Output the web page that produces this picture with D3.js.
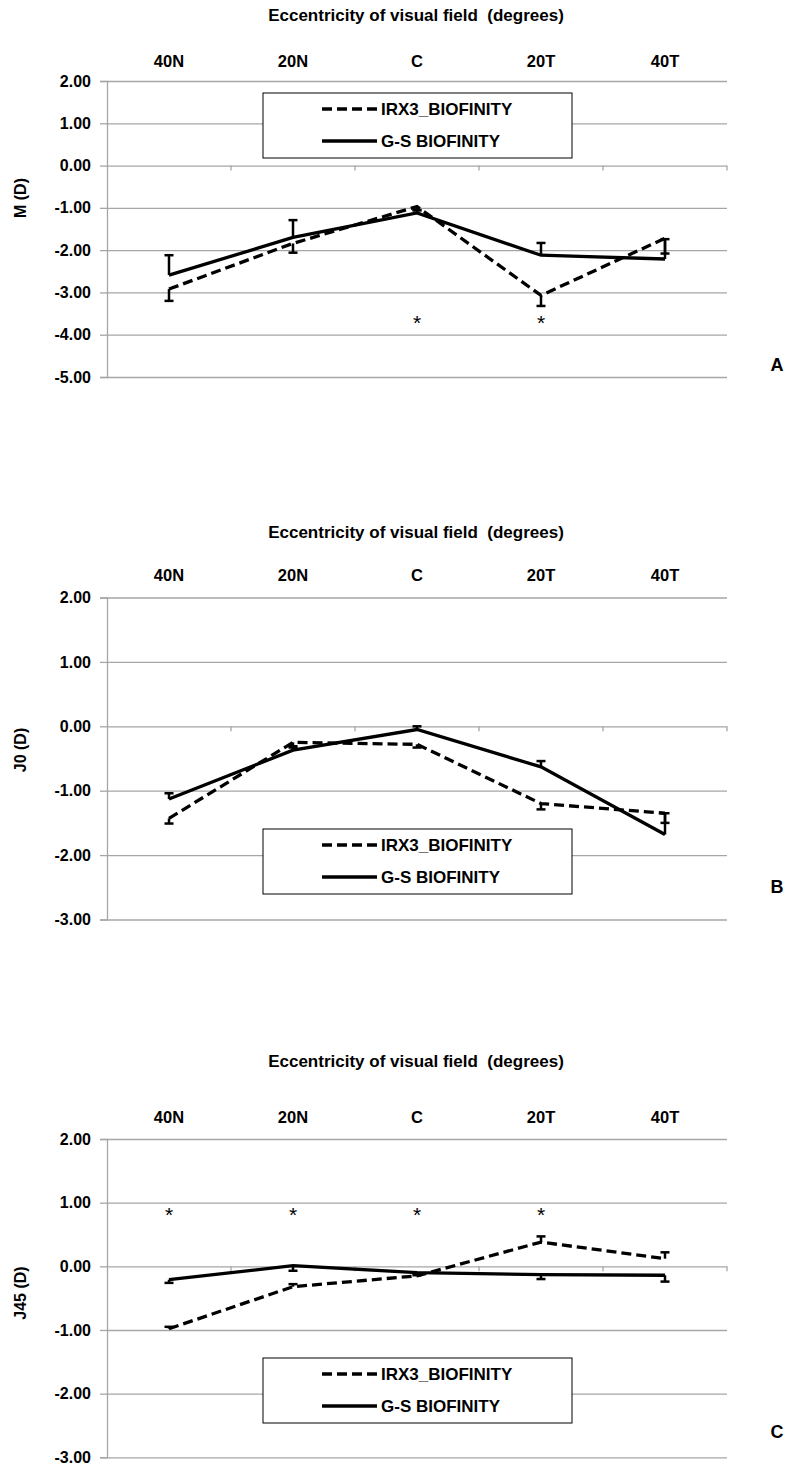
<!DOCTYPE html>
<html>
<head>
<meta charset="utf-8">
<script src="https://cdn.jsdelivr.net/npm/d3@7"></script>
<style>
  body { margin: 0; background: #fff; }
  svg text { font-family: "Liberation Sans", Arial, sans-serif; font-weight: bold; fill: #000; }
</style>
</head>
<body>
<div id="chart"></div>
<script>
const categories = ['40N', '20N', 'C', '20T', '40T'];
const seriesNames = ['IRX3_BIOFINITY', 'G-S BIOFINITY'];
const xTitle = 'Eccentricity of visual field  (degrees)';

// panel A: M
const mTicks = [2, 1, 0, -1, -2, -3, -4, -5];
const mIrx3 = [-2.92, -1.84, -0.97, -3.07, -1.72];
const mIrx3Err = [-0.28, -0.22, -0.08, -0.25, -0.36];
const mGs = [-2.59, -1.70, -1.12, -2.12, -2.21];
const mGsErr = [0.47, 0.41, 0.06, 0.29, 0.47];
const mStars = ['C', '20T'];
const mStarLevel = -3.63;

// panel B: J0
const j0Ticks = [2, 1, 0, -1, -2, -3];
const j0Irx3 = [-1.43, -0.25, -0.28, -1.20, -1.35];
const j0Irx3Err = [-0.08, -0.08, -0.05, -0.09, -0.15];
const j0Gs = [-1.13, -0.37, -0.05, -0.63, -1.68];
const j0GsErr = [0.09, 0.06, 0.05, 0.09, 0.33];
const j0Stars = [];
const j0StarLevel = 0;

// panel C: J45
const j45Ticks = [2, 1, 0, -1, -2, -3];
const j45Irx3 = [-0.98, -0.32, -0.15, 0.38, 0.12];
const j45Irx3Err = [0.03, 0.04, 0.03, 0.09, 0.10];
const j45Gs = [-0.21, 0.01, -0.10, -0.13, -0.14];
const j45GsErr = [-0.05, -0.08, -0.04, -0.07, -0.10];
const j45Stars = ['40N', '20N', 'C', '20T'];
const j45StarLevel = 0.87;

const panels = [
  { letter: 'A', yLabel: 'M (D)', ticks: mTicks, irx3: mIrx3, irx3Err: mIrx3Err, gs: mGs, gsErr: mGsErr, stars: mStars, starLevel: mStarLevel,
    top: 81, bottom: 377, titleY: 21, catY: 67, legendTop: 93, yLabelY: 198, letterY: 371 },
  { letter: 'B', yLabel: 'J0 (D)', ticks: j0Ticks, irx3: j0Irx3, irx3Err: j0Irx3Err, gs: j0Gs, gsErr: j0GsErr, stars: j0Stars, starLevel: j0StarLevel,
    top: 597.5, bottom: 919.5, titleY: 538, catY: 581, legendTop: 829, yLabelY: 750, letterY: 893 },
  { letter: 'C', yLabel: 'J45 (D)', ticks: j45Ticks, irx3: j45Irx3, irx3Err: j45Irx3Err, gs: j45Gs, gsErr: j45GsErr, stars: j45Stars, starLevel: j45StarLevel,
    top: 1139, bottom: 1457.3, titleY: 1067, catY: 1123, legendTop: 1358, yLabelY: 1293, letterY: 1438 }
];

const W = 788, H = 1466;
const left = 107, right = 727;
const grid = '#a6a6a6';

const svg = d3.select('#chart').append('svg')
  .attr('width', W)
  .attr('height', H);

const x = d3.scaleBand().domain(categories).range([left, right]);
const cx = c => x(c) + x.bandwidth() / 2;

panels.forEach(p => {
  const g = svg.append('g');
  const y = d3.scaleLinear().domain([d3.min(p.ticks), d3.max(p.ticks)]).range([p.bottom, p.top]);

  // gridlines
  g.append('g')
    .attr('transform', `translate(${left},0)`)
    .call(d3.axisRight(y).tickValues(p.ticks).tickSize(right - left).tickFormat(''))
    .call(s => s.select('.domain').remove())
    .selectAll('line').attr('stroke', grid).attr('stroke-width', 1.3);

  // value axis
  const ya = g.append('g')
    .attr('transform', `translate(${left},0)`)
    .call(d3.axisLeft(y).tickValues(p.ticks).tickSize(7).tickPadding(9).tickFormat(d => d.toFixed(2)));
  ya.select('.domain').attr('stroke', grid).attr('stroke-width', 1.3);
  ya.selectAll('.tick line').attr('stroke', grid).attr('stroke-width', 1.3);
  ya.selectAll('text').style('font-size', '16px');

  // category tick marks on the zero line
  const bounds = categories.slice(1).map(c => x(c)).concat([x.range()[1]]);
  g.selectAll('.ctick').data(bounds).enter().append('line')
    .attr('x1', d => d).attr('x2', d => d)
    .attr('y1', y(0)).attr('y2', y(0) + 5)
    .attr('stroke', grid).attr('stroke-width', 1.3);

  // category labels (high position)
  g.append('g')
    .attr('transform', `translate(0,${p.catY})`)
    .call(d3.axisTop(x).tickSize(0).tickPadding(0))
    .call(s => s.select('.domain').remove())
    .selectAll('text').attr('dy', 0).style('font-size', '16.5px');

  // title
  g.append('text')
    .attr('x', (left + right) / 2 - 1).attr('y', p.titleY)
    .attr('text-anchor', 'middle')
    .style('font-size', '17px')
    .style('white-space', 'pre')
    .text(xTitle);

  // y label
  g.append('text')
    .attr('transform', `translate(26,${p.yLabelY}) rotate(-90)`)
    .attr('text-anchor', 'middle')
    .style('font-size', '16px')
    .style('white-space', 'pre')
    .text(p.yLabel);

  // panel letter
  g.append('text')
    .attr('x', 777).attr('y', p.letterY)
    .attr('text-anchor', 'middle')
    .style('font-size', '18px')
    .text(p.letter);

  const line = d3.line().x((d, i) => cx(categories[i])).y(d => y(d));
  const series = [
    { vals: p.irx3, err: p.irx3Err, dash: '10,5' },
    { vals: p.gs, err: p.gsErr, dash: null }
  ];

  series.forEach(s => {
    g.append('path')
      .datum(s.vals)
      .attr('d', line)
      .attr('fill', 'none')
      .attr('stroke', '#000')
      .attr('stroke-width', 3.3)
      .attr('stroke-dasharray', s.dash);

    const eb = g.selectAll(null).data(s.vals.map((v, i) => ({ c: categories[i], v, e: s.err[i] }))).enter();
    eb.append('line')
      .attr('x1', d => cx(d.c)).attr('x2', d => cx(d.c))
      .attr('y1', d => y(d.v)).attr('y2', d => y(d.v + d.e))
      .attr('stroke', '#000').attr('stroke-width', 2.5);
    eb.append('line')
      .attr('x1', d => cx(d.c) - 4.5).attr('x2', d => cx(d.c) + 4.5)
      .attr('y1', d => y(d.v + d.e)).attr('y2', d => y(d.v + d.e))
      .attr('stroke', '#000').attr('stroke-width', 2.5);
  });

  // significance markers
  g.selectAll('.star').data(p.stars).enter().append('text')
    .attr('x', d => cx(d)).attr('y', y(p.starLevel) + 11)
    .attr('text-anchor', 'middle')
    .style('font-size', '21px')
    .style('font-weight', 'normal')
    .text('*');

  // legend
  const lg = g.append('g').attr('transform', `translate(263,${p.legendTop})`);
  lg.append('rect')
    .attr('width', 309).attr('height', 65)
    .attr('fill', '#fff').attr('stroke', '#000').attr('stroke-width', 1);
  seriesNames.forEach((name, i) => {
    const ly = 16 + i * 32;
    lg.append('line')
      .attr('x1', 59).attr('x2', 114).attr('y1', ly).attr('y2', ly)
      .attr('stroke', '#000').attr('stroke-width', 3.3)
      .attr('stroke-dasharray', series[i].dash);
    lg.append('text')
      .attr('x', 118).attr('y', ly).attr('dy', '0.36em')
      .style('font-size', '17px')
      .text(name);
  });
});
</script>
</body>
</html>
